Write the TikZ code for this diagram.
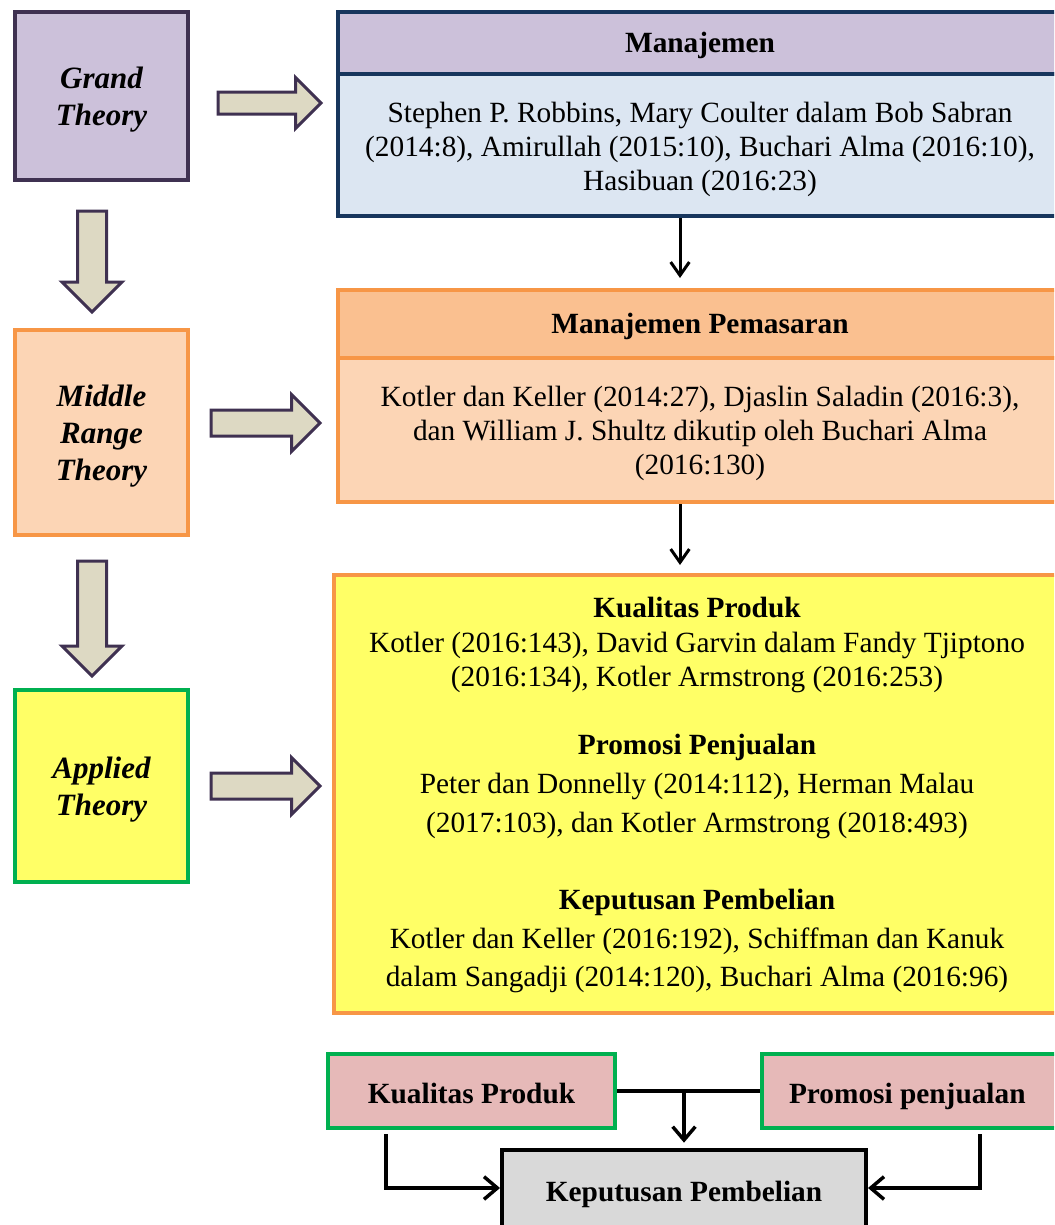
\documentclass[tikz,border=0pt]{standalone}
\usepackage{fontspec}
\setmainfont{Liberation Serif}
\usetikzlibrary{shapes.arrows,arrows.meta,calc}
\def\pp{0.75pt}
\definecolor{purpfill}{HTML}{CCC1DA}
\definecolor{purpline}{HTML}{3F3151}
\definecolor{navy}{HTML}{17365D}
\definecolor{lightblue}{HTML}{DCE6F2}
\definecolor{orangeline}{HTML}{F79646}
\definecolor{orangehead}{HTML}{FAC090}
\definecolor{orangebody}{HTML}{FCD5B5}
\definecolor{yel}{HTML}{FFFF66}
\definecolor{grn}{HTML}{00B050}
\definecolor{arrfill}{HTML}{DDD9C3}
\definecolor{pink}{HTML}{E6B9B8}
\definecolor{grey}{HTML}{D9D9D9}
\begin{document}
\begin{tikzpicture}[x=0.75pt,y=-0.75pt,
  theory/.style={rectangle, line width=3pt, minimum width=173*\pp},
  theorytxt/.style={align=center, font=\fontsize{23.25}{27.75}\selectfont\bfseries\itshape},
  wide/.style={rectangle, line width=3pt, minimum width=724*\pp},
  txt/.style={align=center, font=\fontsize{22}{25.5}\selectfont},
  ttl/.style={align=center, font=\fontsize{22}{25.5}\selectfont\bfseries},
  small/.style={rectangle, line width=3pt, draw=grn, fill=pink, minimum height=74*\pp},
  blockarrow/.style={single arrow, draw=purpline, fill=arrfill, line width=2.25pt,
    single arrow tip angle=90, anchor=tail},
  conn/.style={line width=2.6pt, -{Straight Barb[length=10pt,width=17pt,line width=2.6pt]}},
  thin/.style={line width=2.25pt, -{Straight Barb[length=10pt,width=14pt,line width=2.25pt]}}
]
\clip (0,0) rectangle (1054,1225);
\fill[white] (0,0) rectangle (1054,1225);

% left column
\node[theory, draw=purpline, fill=purpfill, minimum height=168*\pp] (grand) at (101.5,96) {};
\node[theorytxt] (grandt) at ([yshift=-3pt]grand.center) {Grand\\Theory};
\node[theory, draw=orangeline, fill=orangebody, minimum height=205*\pp] (middle) at (101.5,432.5) {};
\node[theorytxt] (middlet) at ([yshift=-3pt]middle.center) {Middle\\Range\\Theory};
\node[theory, draw=grn, fill=yel, minimum height=192*\pp] (applied) at (101.5,786) {};
\node[theorytxt] (appliedt) at ([yshift=-3pt]applied.center) {Applied\\Theory};

% block arrows
\node[blockarrow, inner sep=9.5*\pp, single arrow head extend=14.5*\pp, minimum height=103*\pp] (a1) at (216.5,103) {};
\node[blockarrow, inner sep=11.5*\pp, single arrow head extend=15.5*\pp, minimum height=109*\pp] (a2) at (209.5,423) {};
\node[blockarrow, inner sep=11.5*\pp, single arrow head extend=15.5*\pp, minimum height=109*\pp] (a3) at (209.5,786) {};
\node[blockarrow, shape border rotate=270, inner sep=13*\pp, single arrow head extend=15.5*\pp, minimum height=101*\pp] (d1) at (92,209.5) {};
\node[blockarrow, shape border rotate=270, inner sep=13*\pp, single arrow head extend=15.5*\pp, minimum height=115*\pp] (d2) at (92,559.5) {};

% Manajemen
\node[wide, draw=navy, fill=lightblue, minimum height=142*\pp] (mb) at (700,145) {};
\node[txt] (mbt) at ([yshift=-3pt]mb.center)
  {Stephen P. Robbins, Mary Coulter dalam Bob Sabran\\(2014:8), Amirullah (2015:10), Buchari Alma (2016:10),\\Hasibuan (2016:23)};
\node[wide, draw=navy, fill=purpfill, minimum height=62*\pp] (mh) at (700,43) {};
\node[ttl] (mht) at ([yshift=-1.5pt]mh.center) {Manajemen};

% Manajemen Pemasaran
\node[wide, draw=orangeline, fill=orangebody, minimum height=144*\pp] (pb) at (700,430) {};
\node[txt] (pbt) at ([yshift=-2.6pt]pb.center)
  {Kotler dan Keller (2014:27), Djaslin Saladin (2016:3),\\dan William J. Shultz dikutip oleh Buchari Alma\\(2016:130)};
\node[wide, draw=orangeline, fill=orangehead, minimum height=68*\pp] (ph) at (700,324) {};
\node[ttl] (pht) at ([yshift=-1.5pt]ph.center) {Manajemen Pemasaran};

% Applied theory box
\node[rectangle, line width=3pt, draw=orangeline, fill=yel, minimum width=728*\pp, minimum height=438*\pp] (yb) at (698,794) {};
\node[ttl] (t1) at (697,607) {Kualitas Produk};
\node[txt] (x1) at (697,662) {Kotler (2016:143), David Garvin dalam Fandy Tjiptono\\(2016:134), Kotler Armstrong (2016:253)};
\node[ttl] (t2) at (697,747) {Promosi Penjualan};
\node[txt, font=\fontsize{22}{29.25}\selectfont] (x2) at (697,806) {Peter dan Donnelly (2014:112), Herman Malau\\(2017:103), dan Kotler Armstrong (2018:493)};
\node[ttl] (t3) at (697,902) {Keputusan Pembelian};
\node[txt, font=\fontsize{22}{28.5}\selectfont] (x3) at (697,960) {Kotler dan Keller (2016:192), Schiffman dan Kanuk\\dalam Sangadji (2014:120), Buchari Alma (2016:96)};

% vertical connectors
\draw[thin, shorten >=7.5pt] ([xshift=-15pt]mb.south) -- ([xshift=-15pt]ph.north);
\draw[thin, shorten >=6pt] ([xshift=-15pt]pb.south) -- ([xshift=-13.5pt]yb.north);

% bottom model
\node[small, minimum width=287*\pp] (kp) at (471.5,1091) {};
\node[ttl] (kpt) at ([yshift=-1.5pt]kp.center) {Kualitas Produk};
\node[small, minimum width=300*\pp] (pp) at (912,1091) {};
\node[ttl, text depth=0pt] (ppt) at ([xshift=-3.5pt,yshift=-1.5pt]pp.center) {Promosi penjualan};
\node[rectangle, line width=3pt, draw=black, fill=grey, minimum width=364*\pp, minimum height=84*\pp] (kb) at (684,1192) {};
\node[ttl] (kbt) at ([yshift=-2pt]kb.center) {Keputusan Pembelian};

\draw[line width=2.6pt] (kp.east) -- (pp.west);
\draw[conn, shorten >=4pt] (kb.north |- kp.east) -- (kb.north);
\draw[conn] ([xshift=45pt,yshift=-3pt]kp.south west) |- ([yshift=3pt]kb.west);
\draw[conn] ([xshift=51pt,yshift=-3pt]pp.south) |- ([yshift=3pt]kb.east);
\end{tikzpicture}
\end{document}
